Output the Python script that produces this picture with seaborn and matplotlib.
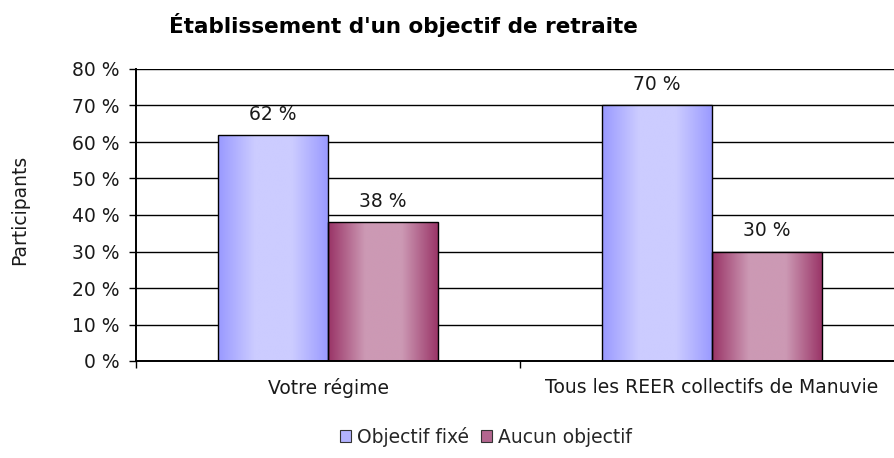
import numpy as np
import pandas as pd
import seaborn as sns
import matplotlib.pyplot as plt
from matplotlib.colors import LinearSegmentedColormap
from matplotlib.patches import Patch

categories = ["Votre régime", "Tous les REER collectifs de Manuvie"]
series = ["Objectif fixé", "Aucun objectif"]
objectif_fixe = [62, 70]
aucun_objectif = [38, 30]
yticks = [0, 10, 20, 30, 40, 50, 60, 70, 80]

df = pd.DataFrame({
    "categorie": categories * 2,
    "serie": [series[0]] * 2 + [series[1]] * 2,
    "valeur": objectif_fixe + aucun_objectif,
})

sns.set_style("white")
plt.rcParams['font.family'] = ['DejaVu Sans']
txt = "#1a1a1a"
fs = 13.5

fig = plt.figure(figsize=(8.94, 4.58), dpi=100)
ax = fig.add_axes([136 / 894, 97 / 458, 768 / 894, 292 / 458])
ax.set_axisbelow(True)

sns.barplot(data=df, x="categorie", y="valeur", hue="serie",
            palette=["#b3b3ff", "#b36690"], width=0.573, gap=0,
            edgecolor="black", linewidth=1, legend=False, ax=ax)

# Excel-like horizontal gradients
blue = LinearSegmentedColormap.from_list("b", ["#9999ff", "#ccccff", "#ccccff", "#9999ff"])
maroon = LinearSegmentedColormap.from_list("m", ["#993366", "#cc99b4", "#cc99b4", "#993366"])
grad = np.linspace(0, 1, 256).reshape(1, -1)
for cont, cmap in zip(ax.containers, [blue, maroon]):
    for bar in cont:
        x0, y0 = bar.get_x(), bar.get_y()
        w, h = bar.get_width(), bar.get_height()
        im = ax.imshow(grad, extent=[x0, x0 + w, y0, y0 + h], aspect="auto",
                       cmap=cmap, zorder=1.5, interpolation="bilinear")
        im.set_clip_path(bar)
        bar.set_facecolor("none")
        bar.set_zorder(2)
    vals = [int(round(b.get_height())) for b in cont]
    ax.bar_label(cont, labels=[f"{v} %" for v in vals], padding=8,
                 fontsize=fs, color=txt)

ax.set_xlim(-0.5, 1.5)
ax.set_ylim(0, 80)
ax.set_yticks(yticks)
ax.set_yticklabels([f"{t} %" for t in yticks], fontsize=fs, color=txt)
ax.yaxis.grid(True, color="black", linewidth=1)
ax.tick_params(axis="y", length=5, width=1, pad=7, left=True, color="black")
ax.set_xticks([0, 1])
ax.set_xticklabels(categories, fontsize=fs, color=txt)
ax.set_xticks([-0.5, 0.5, 1.5], minor=True)
ax.tick_params(axis="x", which="major", length=0, pad=12)
ax.tick_params(axis="x", which="minor", length=5, width=1, bottom=True, color="black")
ax.set_xlabel("")
ax.set_ylabel("")
for s in ["top", "right"]:
    ax.spines[s].set_visible(False)
for s in ["left", "bottom"]:
    ax.spines[s].set_color("black")
    ax.spines[s].set_linewidth(1.4)

fig.text(20 / 894, 1 - 210 / 458, "Participants", rotation=90,
         ha="center", va="center", fontsize=fs, color=txt)
fig.text(403 / 894, 1 - 25 / 458, "Établissement d'un objectif de retraite",
         ha="center", va="center", fontsize=15.5, fontweight="bold", color="black")

handles = [Patch(facecolor="#b3b3ff", edgecolor="#333333", linewidth=0.8),
           Patch(facecolor="#b3668f", edgecolor="#333333", linewidth=0.8)]
fig.legend(handles, series, loc="center", bbox_to_anchor=(486 / 894, 1 - 437 / 458),
           ncol=2, frameon=False, fontsize=fs, handlelength=0.6, handleheight=0.6,
           handletextpad=0.35, columnspacing=0.6, borderpad=0)

fig.savefig("out.png", dpi=100)
